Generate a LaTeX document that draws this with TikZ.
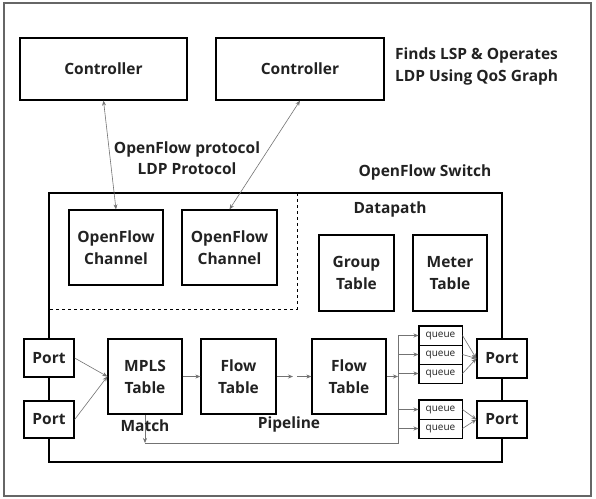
\documentclass[tikz,border=0pt]{standalone}
\usepackage{fontspec}
\setmainfont{Open Sans}
\usetikzlibrary{arrows.meta}
\definecolor{txt}{HTML}{222222}
\begin{document}
\begin{tikzpicture}[x=1pt,y=-1pt,
  box/.style={draw=black, line width=1.3pt, fill=white, inner sep=0pt, align=center,
    font=\bfseries\fontsize{15.5}{22}\selectfont, text=txt},
  qbox/.style={draw=black, line width=1pt, fill=white, inner sep=0pt,
    minimum width=43pt, minimum height=19pt, font=\fontsize{10}{10}\selectfont, text=txt},
  lbl/.style={inner sep=0pt, align=center, font=\bfseries\fontsize{15.5}{21}\selectfont, text=txt},
  conn/.style={draw=black!55, line width=0.6pt, -{Stealth[length=5pt,width=4pt]}},
  biconn/.style={draw=black!55, line width=0.6pt, {Stealth[length=5pt,width=4pt]}-{Stealth[length=5pt,width=4pt]}},
  wire/.style={draw=black!55, line width=0.6pt}]
% outer frame
\draw[draw=black!60, line width=1.5pt, fill=white] (4,3) rectangle (591,496);
\useasboundingbox (0,0) rectangle (596,498);

% controllers
\node[box, minimum width=167pt, minimum height=62pt] (c1) at (103.5,69) {Controller};
\node[box, minimum width=168pt, minimum height=62pt] (c2) at (300,69) {Controller};
\node[lbl, anchor=west, align=left, font=\bfseries\fontsize{15.5}{22}\selectfont] (finds) at (395,66) {Finds LSP \& Operates\\LDP Using QoS Graph};
\node[lbl] (proto) at (187,158) {OpenFlow protocol\\LDP Protocol};
\node[lbl] (sw) at (425,172) {OpenFlow Switch};

% switch frame
\draw[line width=1.3pt] (49,193) rectangle (502,462);
\draw[line width=1pt, dashed] (297,193) -- (297,309) -- (49,309);
\node[lbl] (dp) at (390,209) {Datapath};

% channels, group, meter
\node[box, minimum width=94pt, minimum height=75pt] (ch1) at (116,247.5) {OpenFlow\\Channel};
\node[box, minimum width=95pt, minimum height=75pt] (ch2) at (229.5,247.5) {OpenFlow\\Channel};
\node[box, minimum width=75pt, minimum height=76pt] (grp) at (356.5,273) {Group\\Table};
\node[box, minimum width=74pt, minimum height=76pt] (mtr) at (450,273) {Meter\\Table};

% ports and tables
\node[box, minimum width=50pt, minimum height=38pt] (p1) at (49,358) {Port};
\node[box, minimum width=50pt, minimum height=37pt] (p2) at (49,419.5) {Port};
\node[box, minimum width=74pt, minimum height=75pt] (mpls) at (145,376.5) {MPLS\\Table};
\node[box, minimum width=75pt, minimum height=75pt] (f1) at (238.5,376.5) {Flow\\Table};
\node[box, minimum width=74pt, minimum height=75pt] (f2) at (349,376.5) {Flow\\Table};
\node[box, minimum width=50pt, minimum height=39pt] (r1) at (502,358.5) {Port};
\node[box, minimum width=50pt, minimum height=37pt] (r2) at (502,419.5) {Port};

% queues
\node[qbox] (q1) at (440.5,335.5) {queue};
\node[qbox] (q2) at (440.5,354.5) {queue};
\node[qbox] (q3) at (440.5,373.5) {queue};
\node[qbox] (q4) at (440.5,409.5) {queue};
\node[qbox] (q5) at (440.5,428.5) {queue};
\draw[line width=1.5pt] (q1.north west) rectangle (q3.south east);
\draw[line width=1.5pt] (q4.north west) rectangle (q5.south east);

% connectors
\draw[biconn] (c1.south) -- (ch1.north);
\draw[biconn] (c2.south) -- (ch2.north);
\draw[conn] (p1.east) -- (mpls.west);
\draw[conn] (p2.east) -- (mpls.west);
\draw[conn] (mpls.east) -- (f1.west);
\coordinate (m1) at (293,376.5);
\coordinate (m2) at (297,376.5);
\draw[conn] (f1.east) -- (m1);
\draw[conn] (m2) -- (f2.west);
\coordinate (br) at (398,376.5);
\coordinate (brtop) at (398,335.5);
\coordinate (brbot) at (398,443);
\coordinate (fb) at (145,443);
\draw[conn] (f2.east) -- (br);
\draw[wire] (brtop) -- (brbot) -- (fb);
\draw[conn] (mpls.south) -- (fb);
\foreach \q in {q1,q2,q3,q4,q5} {
  \draw[conn] (brtop |- \q.west) -- (\q.west);
}
\foreach \q in {q1,q2,q3} { \draw[conn] (\q.east) -- (r1.west); }
\foreach \q in {q4,q5} { \draw[conn] (\q.east) -- (r2.west); }

\node[lbl] (match) at (145,426) {Match};
\node[lbl] (pipe) at (289,424) {Pipeline};
\end{tikzpicture}
\end{document}
